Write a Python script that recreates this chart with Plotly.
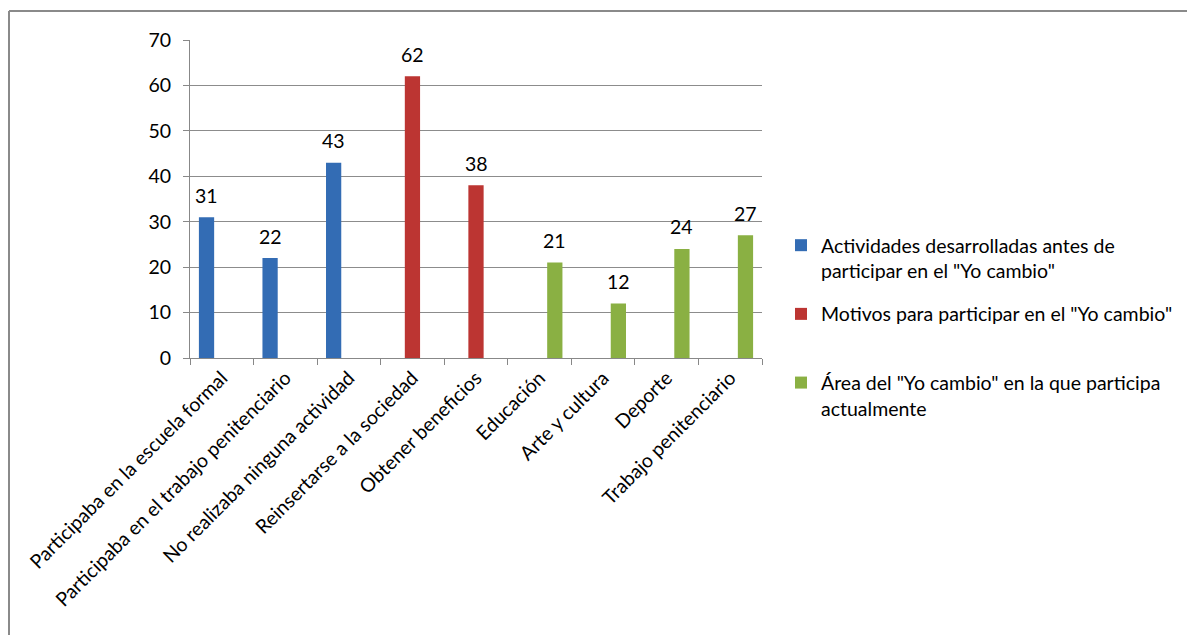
import plotly.graph_objects as go

categories = [
    "Participaba en la escuela formal",
    "Participaba en el trabajo penitenciario",
    "No realizaba ninguna actividad",
    "Reinsertarse a la sociedad",
    "Obtener beneficios",
    "Educación",
    "Arte y cultura",
    "Deporte",
    "Trabajo penitenciario",
]
series_names = [
    'Actividades desarrolladas antes de<br>participar en el "Yo cambio"',
    'Motivos para participar en el "Yo cambio"<br> ',
    'Área del "Yo cambio" en la que participa<br>actualmente',
]
actividades = [31, 22, 43, None, None, None, None, None, None]
motivos = [None, None, None, 62, 38, None, None, None, None]
area = [None, None, None, None, None, 21, 12, 24, 27]
colors = ["#336CB4", "#BC3532", "#8AB043"]

FONT = "Lato, 'Open Sans', sans-serif"
FS = 19.5
# page body margin of 8px is compensated in margins
PL, PT, PW, PH = 190, 40, 572, 318

fig = go.Figure()
annotations = []
offsets = [-15, 0, 15]
for name, vals, col, off in zip(series_names, [actividades, motivos, area], colors, offsets):
    fig.add_trace(go.Bar(
        x=categories, y=vals, name=name, marker=dict(color=col, line=dict(width=0)),
        cliponaxis=False, legendgroup=name,
    ))
    for c, v in zip(categories, vals):
        if v is not None:
            annotations.append(dict(x=c, y=v, xref="x", yref="y", text=str(v),
                                    showarrow=False, xshift=off, yshift=22,
                                    yanchor="middle", xanchor="center",
                                    font=dict(size=FS, family=FONT, color="#000000")))

fig.update_layout(
    width=1195, height=635,
    margin=dict(l=PL - 8, r=1195 - (PL + PW) + 8, t=PT - 8, b=635 - (PT + PH) + 8),
    paper_bgcolor="white", plot_bgcolor="white",
    barmode="group", bargap=0.28, bargroupgap=0.0,
    font=dict(family=FONT, size=FS, color="#000000"),
    showlegend=True,
    legend=dict(x=(781 - PL) / PW, y=(PT + PH - 226) / PH, xanchor="left", yanchor="top",
                valign="top", font=dict(size=FS, family=FONT), tracegroupgap=15,
                itemwidth=30, itemsizing="constant", bgcolor="rgba(0,0,0,0)"),
    xaxis=dict(tickangle=-45, showgrid=False, showline=True, linecolor="#888888",
               ticks="outside", tickson="boundaries", ticklen=6, tickcolor="#888888",
               tickfont=dict(size=FS, family=FONT), linewidth=1),
    yaxis=dict(range=[0, 70], dtick=10, showgrid=True, gridcolor="#8c8c8c", gridwidth=1,
               showline=True, linecolor="#888888", ticks="outside", ticklen=6,
               tickcolor="#888888", tickfont=dict(size=FS, family=FONT), zeroline=False,
               ticklabelstandoff=8),
    annotations=annotations,
    shapes=[
        dict(type="line", xref="paper", yref="paper",
             x0=(9 - PL) / PW, x1=(1210 - PL) / PW,
             y0=(PT + PH - 11) / PH, y1=(PT + PH - 11) / PH,
             line=dict(color="#8a8a8a", width=2)),
        dict(type="line", xref="paper", yref="paper",
             x0=(9 - PL) / PW, x1=(9 - PL) / PW,
             y0=(PT + PH - 11) / PH, y1=(PT + PH - 650) / PH,
             line=dict(color="#8a8a8a", width=2)),
    ],
)

fig.write_html("out.html")
